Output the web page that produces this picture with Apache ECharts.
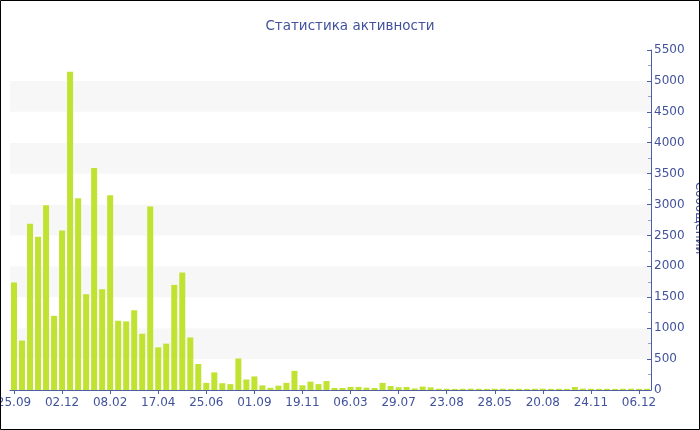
<!DOCTYPE html>
<html>
<head>
<meta charset="utf-8">
<script src="https://cdn.jsdelivr.net/npm/echarts@6/dist/echarts.min.js"></script>
<style>
html,body{margin:0;padding:0;background:#fff;}
#chart{width:700px;height:430px;}
</style>
</head>
<body>
<div id="chart"></div>
<script>
var titleText = 'Статистика активности';
var yAxisName = 'Сообщений';
var tickLabels = ['25.09','02.12','08.02','17.04','25.06','01.09','19.11','06.03','29.07','23.08','28.05','20.08','24.11','06.12'];
var values = [
  1740, 800, 2690, 2480, 2990, 1200, 2580, 5150, 3100, 1550,
  3590, 1630, 3150, 1120, 1110, 1290, 910, 2970, 690, 750,
  1700, 1900, 850, 420, 115, 285, 110, 95, 510, 170,
  220, 75, 35, 70, 115, 310, 76, 135, 95, 145,
  32, 32, 50, 50, 38, 32, 115, 65, 45, 49,
  25, 55, 43, 20, 20, 18, 20, 22, 20, 18,
  20, 21, 19, 20, 18, 20, 22, 19, 20, 18,
  48, 22, 20, 19, 20, 18, 20, 21, 19, 20
];
var categories = [];
for (var i = 0; i < values.length; i++) {
  categories.push(i % 6 === 0 ? tickLabels[i / 6] : '');
}
var blue = '#41529c';
var chart = echarts.init(document.getElementById('chart'));
chart.setOption({
  animation: false,
  backgroundColor: '#fff',
  title: {
    text: titleText,
    left: 'center',
    top: 14,
    textStyle: {color: blue, fontFamily: 'DejaVu Sans', fontSize: 13.5, fontWeight: 'normal'}
  },
  graphic: [{
    type: 'rect',
    shape: {x: 0.5, y: 0.5, width: 699, height: 429},
    style: {fill: 'none', stroke: '#000', lineWidth: 1},
    silent: true,
    z: 100
  }, {
    type: 'text',
    x: 699,
    y: 218,
    rotation: -Math.PI / 2,
    silent: true,
    z: 50,
    style: {
      text: yAxisName,
      fill: blue,
      font: '12px "DejaVu Sans"',
      textAlign: 'center',
      textVerticalAlign: 'middle'
    }
  }],
  grid: {left: 10, right: 49, top: 50, bottom: 40, containLabel: false, outerBoundsMode: 'none'},
  xAxis: {
    type: 'category',
    data: categories,
    boundaryGap: true,
    axisLine: {lineStyle: {color: '#4d5ea3', width: 1}},
    axisTick: {show: true, alignWithLabel: true, interval: 5, length: 4, lineStyle: {color: '#4d5ea3'}},
    axisLabel: {interval: 5, color: blue, fontFamily: 'DejaVu Sans', fontSize: 12, margin: 7},
    splitLine: {show: false}
  },
  yAxis: {
    type: 'value',
    position: 'right',
    min: 0,
    max: 5500,
    interval: 500,
    axisLine: {show: true, lineStyle: {color: '#4d5ea3', width: 1}},
    axisTick: {show: true, inside: true, length: 4, lineStyle: {color: '#4d5ea3'}},
    minorTick: {show: true, splitNumber: 2, length: 3, lineStyle: {color: '#9aa3c8'}},
    axisLabel: {color: blue, fontFamily: 'DejaVu Sans', fontSize: 12, margin: 3,
      formatter: function (v) { return String(v); }},
    splitLine: {show: false},
    splitArea: {show: true, areaStyle: {color: ['#ffffff', '#f7f7f7']}}
  },
  series: [{
    type: 'bar',
    data: values,
    barCategoryGap: '25%',
    itemStyle: {color: '#c0e332'}
  }]
});
</script>
</body>
</html>
